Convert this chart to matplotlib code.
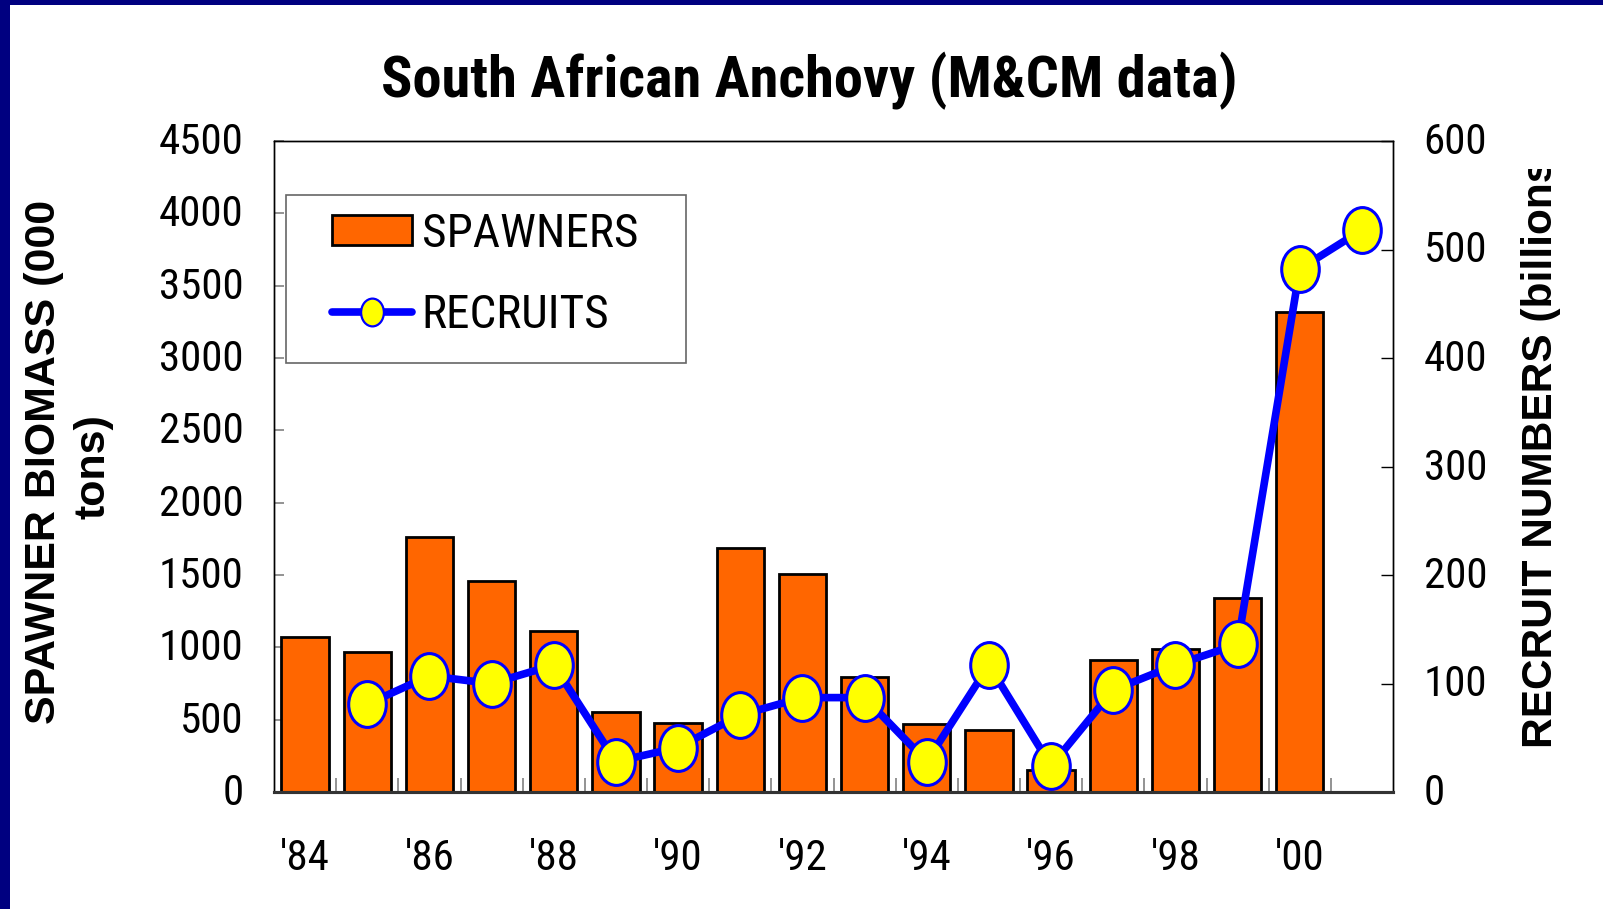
import matplotlib
matplotlib.use("Agg")
import matplotlib.pyplot as plt
import numpy as np
from matplotlib.path import Path
from matplotlib.patches import Patch, Rectangle
from matplotlib.lines import Line2D
from matplotlib.transforms import Bbox, ScaledTranslation
from matplotlib import font_manager

# ---- data ----
years = list(range(1984, 2002))
spawner_years = list(range(1984, 2001))
spawners = [1070, 970, 1760, 1460, 1110, 550, 475, 1685, 1510, 795, 470, 430, 150, 915, 990, 1340, 3315]
recruit_years = list(range(1985, 2002))
recruits = [81, 107, 100, 117, 28, 41, 71, 87, 87, 28, 117, 24, 94, 117, 136, 482, 518]
xtick_labels = ["'84", "'86", "'88", "'90", "'92", "'94", "'96", "'98", "'00"]
left_ticks = [0, 500, 1000, 1500, 2000, 2500, 3000, 3500, 4000, 4500]
right_ticks = [0, 100, 200, 300, 400, 500, 600]

# ---- font choice ----
_fl = font_manager.fontManager.ttflist
def _has(name, bold):
    for f in _fl:
        if f.name == name and f.style == 'normal':
            w = f.weight if isinstance(f.weight, int) else 400
            if (bold and w >= 700) or (not bold and w < 600):
                return True
    return False

def pick(cands, bold):
    for c in cands:
        if _has(c, bold):
            return c
    return 'Liberation Sans'

NARROW_LIST = ['Nimbus Sans Narrow', 'Liberation Sans Narrow', 'Arial Narrow',
               'Roboto Condensed', 'PT Sans Narrow', 'Archivo Narrow', 'Barlow Semi Condensed']
NARROW = pick(NARROW_LIST, False)
NARROW_B = pick(NARROW_LIST, True)
WIDE = 'Liberation Sans'

W, H = 1603, 909
fig = plt.figure(figsize=(W / 100, H / 100), dpi=100)
fig.patch.set_facecolor('white')

def fx(px):
    return px / W

def fy(py):
    return 1 - py / H

# navy frame strips
fig.patches.append(Rectangle((0, 0), fx(10), 1, transform=fig.transFigure,
                             facecolor='#000080', edgecolor='none', zorder=-5))
fig.patches.append(Rectangle((0, fy(5)), 1, 5 / H, transform=fig.transFigure,
                             facecolor='#000080', edgecolor='none', zorder=-5))

L, R, T, B = 274, 1393, 141, 792
ax = fig.add_axes([fx(L), fy(B), fx(R - L), (B - T) / H])
ax2 = ax.twinx()

idx = {y: i for i, y in enumerate(years)}
bx = [idx[y] for y in spawner_years]
rx = [idx[y] for y in recruit_years]

ax.bar(bx, spawners, width=0.76, color='#FF6600', edgecolor='black', linewidth=2.0, zorder=2)

# ellipse marker
circ = Path.unit_circle()
ell = Path(circ.vertices * np.array([0.82, 1.0]), circ.codes)

ax2.plot(rx, recruits, color='#0000FF', lw=5.5, marker=ell, markersize=33,
         markerfacecolor='#FFFF00', markeredgecolor='#0000FF', markeredgewidth=2.2,
         solid_joinstyle='round', zorder=3)

ax.set_xlim(-0.5, len(years) - 0.5)
ax.set_ylim(0, 4500)
ax2.set_ylim(0, 600)
ax.set_yticks(left_ticks)
ax.set_yticklabels([str(v) for v in left_ticks])
ax2.set_yticks(right_ticks)
ax2.set_yticklabels([str(v) for v in right_ticks])

major_x = [idx[y] for y in years if (y - 1984) % 2 == 0 and y <= 2000]
ax.set_xticks(major_x)
ax.set_xticklabels(xtick_labels)
ax.set_xticks([i + 0.5 for i in range(len(years) - 1)], minor=True)

for lab in ax.get_yticklabels() + ax2.get_yticklabels() + ax.get_xticklabels():
    lab.set_fontfamily(NARROW)
    lab.set_fontsize(31)

ax.tick_params(axis='y', direction='in', length=7.5, width=1.2, color='#808080', pad=22)
ax2.tick_params(axis='y', direction='in', length=8.5, width=1.0, color='black', pad=22)
ax.tick_params(axis='x', which='major', length=0, pad=33)
ax.tick_params(axis='x', which='minor', direction='in', length=10, width=1.2, color='#808080')

# nudge y tick labels up a few pixels, as in the reference
up = ScaledTranslation(0, 3 / 100, fig.dpi_scale_trans)
for lab in ax.get_yticklabels() + ax2.get_yticklabels():
    lab.set_transform(lab.get_transform() + up)

for a in (ax, ax2):
    for s in ('left', 'right', 'top'):
        a.spines[s].set_linewidth(1.0)
        a.spines[s].set_color('black')
    a.spines['bottom'].set_linewidth(2.2)
    a.spines['bottom'].set_color('#333333')
ax.set_zorder(1)
ax2.set_zorder(2)
ax.patch.set_visible(False)

# title
fig.text(fx(809), fy(81), 'South African Anchovy (M&CM data)', ha='center', va='center',
         fontsize=42, fontweight='bold', family=NARROW_B)

# left axis label (two lines)
fig.text(fx(44), fy(462), 'SPAWNER BIOMASS (000', rotation=90, ha='center', va='center',
         fontsize=31, fontweight='bold', family=WIDE)
fig.text(fx(93), fy(467), 'tons)', rotation=90, ha='center', va='center',
         fontsize=31, fontweight='bold', family=WIDE)

# right axis label (clipped at top)
rt = fig.text(fx(1541), fy(748), 'RECRUIT NUMBERS (billions)', rotation=90, ha='center',
              va='bottom', fontsize=30.5, fontweight='bold', family=WIDE)
rt.set_clip_box(Bbox.from_extents(0, 0, W, H - 169))
rt.set_clip_on(True)

# legend frame
fig.patches.append(Rectangle((fx(286), fy(363)), fx(686 - 286), (363 - 195) / H,
                             transform=fig.transFigure, facecolor='white',
                             edgecolor='#666666', linewidth=1.2, zorder=5))
h_patch = Patch(facecolor='#FF6600', edgecolor='black', linewidth=2.0)
h_line = Line2D([], [], color='#0000FF', lw=5.5, marker=ell, markersize=20,
                markerfacecolor='#FFFF00', markeredgecolor='#0000FF', markeredgewidth=1.6,
                solid_capstyle='round')
leg = fig.legend([h_patch, h_line], ['SPAWNERS', 'RECRUITS'], loc='upper left',
                 bbox_to_anchor=(fx(332), fy(212)), frameon=False, borderpad=0,
                 borderaxespad=0, handlelength=1.7, handleheight=0.6, handletextpad=0.2,
                 labelspacing=0.78, prop=dict(family=NARROW, size=34))
leg.set_zorder(6)

fig.savefig('out.png', dpi=100)
